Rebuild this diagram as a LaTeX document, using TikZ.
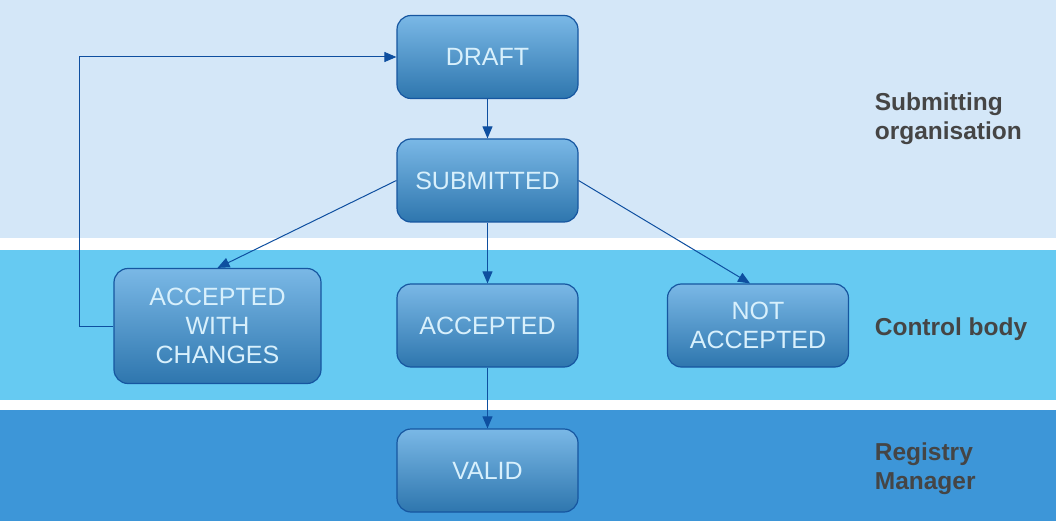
\documentclass[tikz,border=0pt]{standalone}
\usepackage{fontspec}
\setmainfont{Liberation Sans}
\usetikzlibrary{arrows.meta,positioning,backgrounds,calc}
\definecolor{bandtop}{HTML}{D4E7F8}
\definecolor{bandmid}{HTML}{66CAF2}
\definecolor{bandlow}{HTML}{3D96D8}
\definecolor{nodetop}{HTML}{7AB8E6}
\definecolor{nodebot}{HTML}{2E76AE}
\definecolor{nodeedge}{HTML}{1656A0}
\definecolor{nodetext}{HTML}{D8F0FC}
\definecolor{flow}{HTML}{0E4FA0}
\definecolor{lanetext}{HTML}{454545}

\begin{document}
\begin{tikzpicture}[x=1pt,y=-1pt,->,>={Triangle[length=12pt,width=10pt]},
 flow, line width=1pt,
 state/.style={draw=nodeedge, line width=1.2pt, rounded corners=14pt,
  top color=nodetop, bottom color=nodebot, text=nodetext, align=center,
  font=\fontsize{25}{29}\selectfont, minimum width=181pt, minimum height=83pt,
  inner sep=0pt},
 lane/.style={anchor=west, align=left, text=lanetext,
  font=\bfseries\fontsize{24.5}{29}\selectfont}]
 \useasboundingbox (0,0) rectangle (1056,521);
 \fill[white] (0,0) rectangle (1056,521);
 \fill[bandtop] (0,0) rectangle (1056,238);
 \fill[bandmid] (0,250) rectangle (1056,400);
 \fill[bandlow] (0,410) rectangle (1056,521);
 \node[state] (draft) at (487.5,57) {DRAFT};
 \node[state] (submitted) at (487.5,180.5) {SUBMITTED};
 \node[state, minimum width=207pt, minimum height=115pt] (awc) at (217.5,326) {ACCEPTED\\WITH\\CHANGES};
 \node[state] (accepted) at (487.5,325.5) {ACCEPTED};
 \node[state] (notacc) at (758,325.5) {NOT\\ACCEPTED};
 \node[state] (valid) at (487.5,470.5) {VALID};
 \node[lane] (org) at (871,119) {Submitting\\organisation};
 \node[lane] (ctrl) at (871,329.5) {Control body};
 \node[lane] (reg) at (871,469) {Registry\\Manager};
 \draw (draft) -- (submitted);
 \draw (submitted.west) -- (awc.north);
 \draw (submitted) -- (accepted);
 \draw (submitted.east) -- ([xshift=-8pt]notacc.north);
 \draw (accepted) -- (valid);
 % back to draft
 \draw (awc.west) -- ++(-34,0) |- (draft.west);
\end{tikzpicture}
\end{document}
